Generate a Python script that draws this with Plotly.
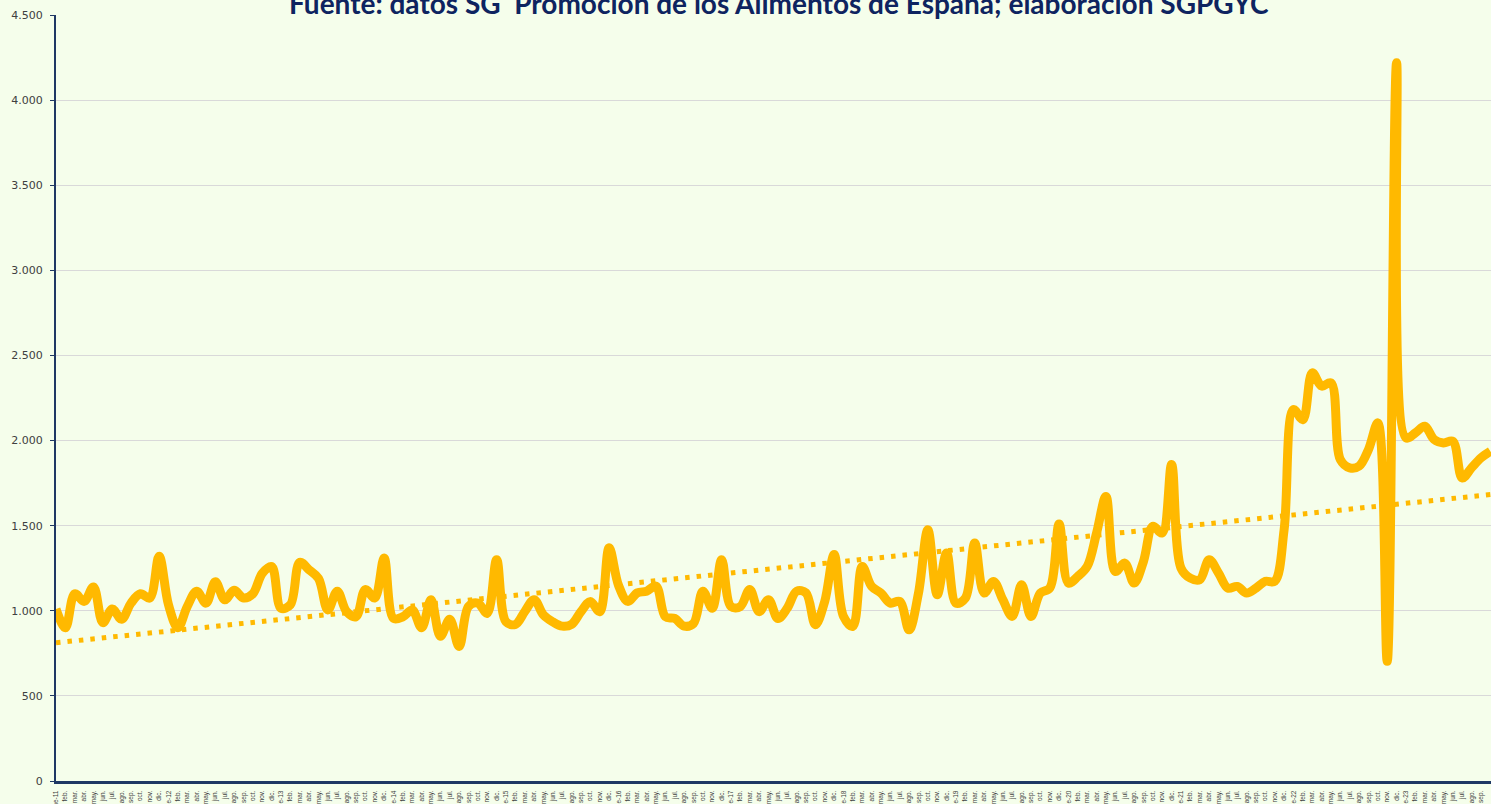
import numpy as np
import plotly.graph_objects as go

# valores mensuales, ene-11 ... oct-23
valores = [
    1010, 900, 1100, 1055, 1140, 930, 1010, 950, 1045, 1100, 1075, 1320,
    1035, 900, 1025, 1115, 1045, 1170, 1065, 1120, 1075, 1100, 1220, 1260,
    1015, 1035, 1285, 1240, 1190, 1005, 1115, 995, 965, 1125, 1075, 1310,
    955, 965, 1005, 900, 1065, 850, 950, 790, 1025, 1045, 985, 1300,
    935, 920, 995, 1065, 975, 935, 910, 920, 995, 1055, 995, 1370,
    1150, 1055, 1105, 1115, 1145, 965, 955, 910, 925, 1115, 1015, 1300,
    1025, 1025, 1125, 995, 1065, 955, 1015, 1115, 1105, 918, 1055, 1330,
    967, 908, 1260, 1143, 1104, 1045, 1055, 888, 1104, 1476, 1094, 1339,
    1045, 1074, 1398, 1104, 1172, 1065, 967, 1153, 967, 1104, 1133, 1510,
    1163, 1202, 1261, 1457, 1672, 1231, 1280, 1163, 1290, 1496, 1457, 1859,
    1251, 1192, 1182, 1300, 1222, 1133, 1143, 1104, 1133, 1173, 1173, 1476,
    2182, 2123, 2398, 2320, 2339, 1888, 1840, 1850, 1947, 2104, 703, 4220,
    2016, 2045, 2084, 2006, 1986, 1996, 1780, 1840, 1898, 1937,
]

meses = ["ene", "feb.", "mar.", "abr.", "may.", "jun.", "jul.", "ago.",
         "sep.", "oct.", "nov.", "dic."]
anio_inicio = 2011

etiquetas = []
for i in range(len(valores)):
    m = i % 12
    if m == 0:
        etiquetas.append(f"ene-{(anio_inicio + i // 12) % 100:02d}")
    else:
        etiquetas.append(meses[m])

x = np.arange(len(valores))
pendiente, origen = np.polyfit(x, valores, 1)
tendencia = origen + pendiente * x

fondo = "#F5FEEB"
azul = "#1F3864"
oro = "#FFB900"

fig = go.Figure()
fig.add_trace(go.Scatter(
    x=x, y=tendencia, mode="lines",
    line=dict(color=oro, width=5, dash="4.5px,7px"),
    hoverinfo="skip", showlegend=False))
fig.add_trace(go.Scatter(
    x=x, y=valores, mode="lines",
    line=dict(color=oro, width=9, shape="spline", smoothing=1),
    text=etiquetas, hovertemplate="%{text}: %{y:,.0f}<extra></extra>",
    showlegend=False))

fig.add_annotation(
    text="Fuente: datos SG  Promoción de los Alimentos de España; elaboración SGPGYC",
    xref="paper", yref="paper", x=0.5035, y=1, yanchor="bottom", yshift=-7,
    showarrow=False,
    font=dict(family="Lato", size=28, color="#0E2460", weight="bold"))

fig.update_layout(
    width=1491, height=804,
    margin=dict(l=56, r=0, t=15, b=23),
    paper_bgcolor=fondo, plot_bgcolor=fondo,
    separators=",.",
    xaxis=dict(
        range=[0, 153.07], tickvals=x, ticktext=etiquetas, tickangle=-90,
        tickfont=dict(family="Liberation Sans", size=6.5, color="#404040"),
        showgrid=False, zeroline=False, automargin=False,
        showline=True, linecolor=azul, linewidth=3, ticks="",
        ticklabelstandoff=4),
    yaxis=dict(
        range=[0, 4500], dtick=500, tickformat=",d",
        tickfont=dict(family="DejaVu Sans", size=11, color="#404040"),
        gridcolor="#D9D9D9", gridwidth=1, zeroline=False, automargin=False,
        showline=True, linecolor=azul, linewidth=2,
        ticks="outside", ticklen=4, tickcolor=azul, tickwidth=1,
        ticklabelstandoff=5),
)

fig.write_html("out.html", config={"displayModeBar": False},
               post_script="document.body.style.margin='0';"
               "document.body.style.overflow='hidden';")
